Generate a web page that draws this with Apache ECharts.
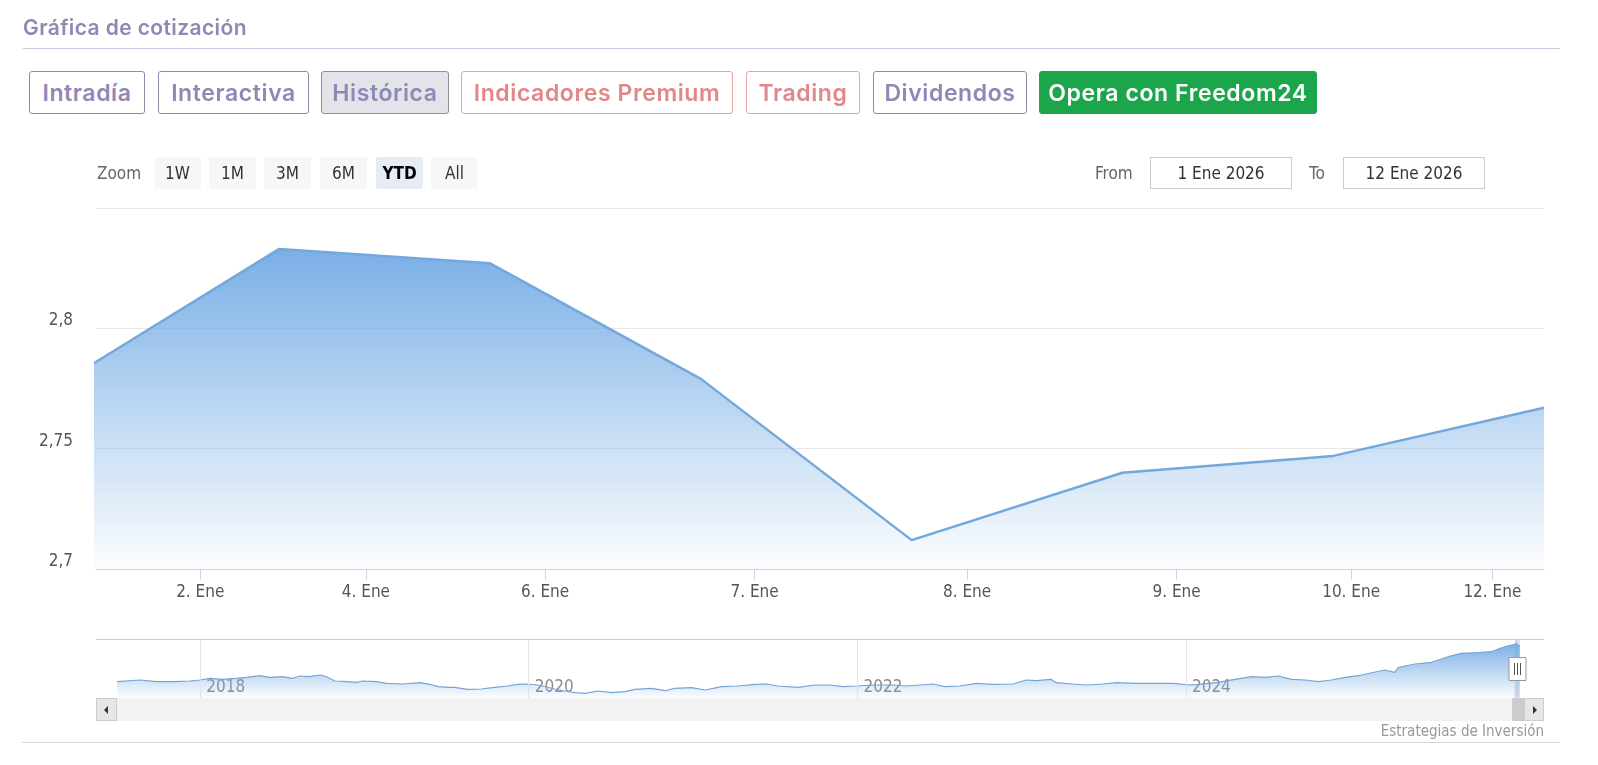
<!DOCTYPE html>
<html><head><meta charset="utf-8">
<script src="https://cdn.jsdelivr.net/npm/echarts@6/dist/echarts.min.js"></script>
<style>
html,body{margin:0;padding:0;background:#fff;width:1598px;height:765px;overflow:hidden;}
#chart{position:absolute;left:0;top:0;width:1598px;height:765px;z-index:0;}
.ov{position:absolute;z-index:2;box-sizing:border-box;white-space:nowrap;}
.title{left:23px;top:15px;font:600 21px Inter,'Noto Sans',sans-serif;letter-spacing:0.4px;color:#8d89b6;}
.rule{height:1px;}
.btn{top:71px;height:43px;border:1px solid #8e8aa8;border-radius:3px;font:600 23px Inter,'Noto Sans',sans-serif;letter-spacing:0.6px;color:#8d89b6;display:flex;align-items:center;justify-content:center;background:#fff;}
.pink{border-color:#e3a5a5;color:#e08787;}
.active{background:#e3e3ea;border-color:#8f8f9a;}
.green{background:#1ba64b;border-color:#1ba64b;color:#fff;}
.narrow{font-family:'DejaVu Sans Condensed','Liberation Sans Narrow','Roboto Condensed',Roboto,sans-serif;font-stretch:condensed;}
.rs{top:157px;height:32px;width:47px;background:#f7f7f7;border-radius:2px;font-size:17px;color:#333;display:flex;align-items:center;justify-content:center;}
.rs.sel{background:#e6ebf5;font-weight:bold;color:#000;}
.lbl{top:157px;height:32px;font-size:17px;color:#666;display:flex;align-items:center;}
.inp{top:157px;height:32px;width:142px;border:1px solid #cccccc;background:#fff;font-size:17px;color:#333;display:flex;align-items:center;justify-content:center;}
.sbtn{top:698px;height:23px;width:21px;background:#e6e6e6;border:1px solid #cccccc;}
.tri{position:absolute;top:7px;width:0;height:0;border-top:4px solid transparent;border-bottom:4px solid transparent;}
</style>
</head><body>
<div id="chart"></div>

<div class="ov title">Gráfica de cotización</div>
<div class="ov rule" style="left:23px;top:48px;width:1537px;background:#cbc8df;"></div>

<div class="ov btn" style="left:29px;width:116px;">Intradía</div>
<div class="ov btn" style="left:158px;width:151px;">Interactiva</div>
<div class="ov btn active" style="left:321px;width:128px;">Histórica</div>
<div class="ov btn pink" style="left:461px;width:272px;">Indicadores Premium</div>
<div class="ov btn pink" style="left:746px;width:114px;">Trading</div>
<div class="ov btn" style="left:873px;width:154px;">Dividendos</div>
<div class="ov btn green" style="left:1039px;width:278px;">Opera con Freedom24</div>

<div class="ov lbl narrow" style="left:97px;">Zoom</div>
<div class="ov rs narrow" style="left:154px;">1W</div>
<div class="ov rs narrow" style="left:209px;">1M</div>
<div class="ov rs narrow" style="left:264px;">3M</div>
<div class="ov rs narrow" style="left:320px;">6M</div>
<div class="ov rs narrow sel" style="left:376px;">YTD</div>
<div class="ov rs narrow" style="left:431px;">All</div>

<div class="ov lbl narrow" style="left:1095px;">From</div>
<div class="ov inp narrow" style="left:1150px;">1 Ene 2026</div>
<div class="ov lbl narrow" style="left:1309px;">To</div>
<div class="ov inp narrow" style="left:1343px;">12 Ene 2026</div>

<div class="ov rule" style="left:96px;top:639px;width:1448px;background:#cccccc;"></div>
<div class="ov" style="left:96px;top:698px;width:1448px;height:23px;background:#f2f2f2;"></div>
<div class="ov" style="left:1512px;top:698px;width:13px;height:23px;background:#cccccc;"></div>
<div class="ov sbtn" style="left:96px;"><div class="tri" style="left:7px;border-right:4px solid #333;"></div></div>
<div class="ov sbtn" style="left:1524px;width:20px;"><div class="tri" style="left:8px;border-left:4px solid #333;"></div></div>

<div class="ov narrow" style="right:54px;top:722px;font-size:15px;color:#999;">Estrategias de Inversión</div>
<div class="ov rule" style="left:22px;top:742px;width:1538px;background:#d6d5e2;"></div>

<script>
// ---- main chart data (ordinal trading-day index) ----
const mainDates = ['2025-12-31','2026-01-02','2026-01-05','2026-01-06','2026-01-07','2026-01-08','2026-01-09','2026-01-12'];
const mainValues = [2.779, 2.833, 2.827, 2.779, 2.712, 2.740, 2.747, 2.767];
const viewRange = [0.1305, 7];
const xTickPos = [0.625, 1.411, 2.261, 3.255, 4.263, 5.257, 6.085, 6.755];
const xTickLabels = ['2. Ene','4. Ene','6. Ene','7. Ene','8. Ene','9. Ene','10. Ene','12. Ene'];
const yTicks = [2.7, 2.75, 2.8, 2.85];
const yTickLabels = ['2,7','2,75','2,8',''];

// ---- navigator data ----
const navDates = ['2017-06-30','2017-08-19','2017-09-26','2017-11-01','2017-12-09','2018-01-01','2018-01-22','2018-02-20','2018-03-22','2018-04-14',
'2018-05-13','2018-06-04','2018-07-03','2018-07-25','2018-08-10','2018-09-01','2018-09-23','2018-10-08','2018-10-27','2018-11-22',
'2018-12-14','2018-12-28','2019-01-27','2019-02-19','2019-03-27','2019-05-04','2019-05-26','2019-06-13','2019-07-09','2019-07-20',
'2019-08-18','2019-09-18','2019-10-17','2019-11-15','2019-12-07','2019-12-27','2020-01-21','2020-02-28','2020-03-21','2020-04-12',
'2020-05-05','2020-06-03','2020-07-03','2020-08-02','2020-08-24','2020-09-30','2020-10-30','2020-11-21','2020-12-28','2021-01-27',
'2021-03-05','2021-04-11','2021-05-18','2021-06-13','2021-07-08','2021-08-22','2021-09-28','2021-10-31','2021-11-30','2021-12-30',
'2022-02-05','2022-03-21','2022-04-20','2022-05-19','2022-06-18','2022-07-14','2022-08-16','2022-09-22','2022-10-29','2022-12-12',
'2023-01-11','2023-02-02','2023-03-07','2023-03-18','2023-04-24','2023-05-24','2023-06-30','2023-07-30','2023-09-13','2023-10-20',
'2023-12-04','2024-01-10','2024-01-28','2024-03-13','2024-04-19','2024-05-26','2024-06-25','2024-07-24','2024-08-23','2024-09-22',
'2024-10-21','2024-11-20','2024-12-20','2025-01-18','2025-02-17','2025-03-18','2025-04-09','2025-04-17','2025-05-24','2025-06-30',
'2025-08-06','2025-09-05','2025-10-12','2025-11-10','2025-11-25','2025-12-10'];
const navValues = [1.543,1.600,1.543,1.543,1.567,1.600,1.657,1.623,1.657,1.690,
1.743,1.690,1.710,1.657,1.733,1.710,1.767,1.710,1.567,1.543,
1.523,1.567,1.543,1.490,1.467,1.510,1.457,1.377,1.357,1.357,
1.290,1.300,1.357,1.400,1.457,1.467,1.433,1.300,1.233,1.177,
1.157,1.233,1.177,1.210,1.290,1.323,1.243,1.323,1.343,1.267,
1.377,1.400,1.457,1.467,1.400,1.357,1.433,1.433,1.377,1.400,
1.433,1.433,1.400,1.433,1.467,1.377,1.400,1.490,1.457,1.467,
1.600,1.577,1.623,1.510,1.467,1.433,1.467,1.510,1.490,1.490,
1.490,1.433,1.457,1.523,1.623,1.710,1.690,1.733,1.623,1.600,
1.543,1.600,1.690,1.743,1.843,1.933,1.857,2.010,2.133,2.190,
2.377,2.490,2.510,2.543,2.633,2.710];
const navRange = ['2017-05-14','2026-03-07'];
const navYRange = [1.0, 2.967];
const navYearTicks = ['2018-01-01','2020-01-01','2022-01-01','2024-01-01'];
const navYearLabels = ['2018','2020','2022','2024'];
const selection = ['2026-01-01','2026-01-12'];

const NARROW = "'DejaVu Sans Condensed','Liberation Sans Narrow','Roboto Condensed',Roboto,sans-serif";
const ts = d => +new Date(d + 'T00:00:00Z');

const mainData = mainValues.map((v, i) => [i, v]);
const navData = navDates.map((d, i) => [ts(d), navValues[i]])
  .concat(mainDates.map((d, i) => [ts(d), mainValues[i]]));

const chart = echarts.init(document.getElementById('chart'), null, {renderer: 'canvas'});
chart.setOption({
  animation: false,
  backgroundColor: 'transparent',
  grid: [
    {left: 96, top: 208, width: 1448, height: 361, containLabel: false},
    {left: 96, top: 639, width: 1448, height: 59, containLabel: false}
  ],
  xAxis: [
    {
      type: 'value', gridIndex: 0, min: viewRange[0], max: viewRange[1],
      axisLine: {show: true, lineStyle: {color: '#ccd6eb', width: 1}},
      axisTick: {show: true, length: 11, customValues: xTickPos, lineStyle: {color: '#ccd6eb'}},
      axisLabel: {
        customValues: xTickPos, margin: 15, fontSize: 17, color: '#555', fontFamily: NARROW,
        formatter: v => { const i = xTickPos.findIndex(t => Math.abs(t - v) < 1e-6); return i >= 0 ? xTickLabels[i] : ''; }
      },
      splitLine: {show: false}
    },
    {
      type: 'value', gridIndex: 1, min: ts(navRange[0]), max: ts(navRange[1]),
      axisLine: {show: false}, axisTick: {show: false, customValues: navYearTicks.map(ts)},
      axisLabel: {
        customValues: navYearTicks.map(ts), inside: true, align: 'left', verticalAlign: 'bottom',
        margin: 2, padding: [0, 0, 0, 6], fontSize: 17, color: '#8c8c8c', fontFamily: NARROW,
        formatter: v => { const i = navYearTicks.findIndex(t => Math.abs(ts(t) - v) < 864e5); return i >= 0 ? navYearLabels[i] : ''; }
      },
      splitLine: {show: false}
    }
  ],
  yAxis: [
    {
      type: 'value', gridIndex: 0, min: yTicks[0], max: yTicks[yTicks.length - 1], interval: 0.05,
      axisLine: {show: false}, axisTick: {show: false},
      axisLabel: {
        margin: 23, fontSize: 17, lineHeight: 15, color: '#555', fontFamily: NARROW, verticalAlign: 'bottom',
        formatter: v => { const i = yTicks.findIndex(t => Math.abs(t - v) < 1e-9); return i >= 0 ? yTickLabels[i] : ''; }
      },
      splitLine: {show: true, lineStyle: {color: '#e6e6e6', width: 1}}
    },
    {
      type: 'value', gridIndex: 1, min: navYRange[0], max: navYRange[1],
      show: false, splitLine: {show: false}
    }
  ],
  series: [
    {
      type: 'line', xAxisIndex: 0, yAxisIndex: 0, data: mainData, symbol: 'none', clip: true,
      lineStyle: {color: '#73a8dc', width: 2.5},
      areaStyle: {
        opacity: 1,
        color: new echarts.graphic.LinearGradient(0, 0, 0, 1, [
          {offset: 0, color: 'rgba(122,175,230,1)'},
          {offset: 1, color: 'rgba(122,175,230,0.02)'}
        ])
      }
    },
    {
      type: 'line', xAxisIndex: 1, yAxisIndex: 1, data: navData, symbol: 'none', clip: true,
      lineStyle: {color: '#75a5d6', width: 1.2},
      areaStyle: {
        opacity: 1,
        color: new echarts.graphic.LinearGradient(0, 0, 0, 1, [
          {offset: 0, color: 'rgba(122,175,230,1)'},
          {offset: 1, color: 'rgba(122,175,230,0.03)'}
        ])
      },
      markLine: {
        silent: true, symbol: 'none', label: {show: false},
        lineStyle: {color: '#e3e3e3', width: 1, type: 'solid'},
        data: navYearTicks.map(d => ({xAxis: ts(d)}))
      },
      markArea: {
        silent: true, itemStyle: {color: 'rgba(102,133,194,0.3)'},
        data: [[{xAxis: ts(selection[0])}, {xAxis: ts(selection[1])}]]
      }
    }
  ]
});

// navigator handle drawn at the selected range
const hx0 = chart.convertToPixel({xAxisIndex: 1}, ts(selection[0]));
const hx1 = chart.convertToPixel({xAxisIndex: 1}, ts(selection[1]));
const cx = Math.round((hx0 + hx1) / 2) + 0.5;
chart.setOption({
  graphic: [
    {type: 'rect', shape: {x: cx - 8.5, y: 657.5, width: 17, height: 23}, style: {fill: '#fff', stroke: '#999', lineWidth: 1}, z: 100},
    {type: 'line', shape: {x1: cx - 3, y1: 663, x2: cx - 3, y2: 675}, style: {stroke: '#555', lineWidth: 1}, z: 101},
    {type: 'line', shape: {x1: cx, y1: 663, x2: cx, y2: 675}, style: {stroke: '#555', lineWidth: 1}, z: 101},
    {type: 'line', shape: {x1: cx + 3, y1: 663, x2: cx + 3, y2: 675}, style: {stroke: '#555', lineWidth: 1}, z: 101}
  ]
});
</script>
</body></html>
